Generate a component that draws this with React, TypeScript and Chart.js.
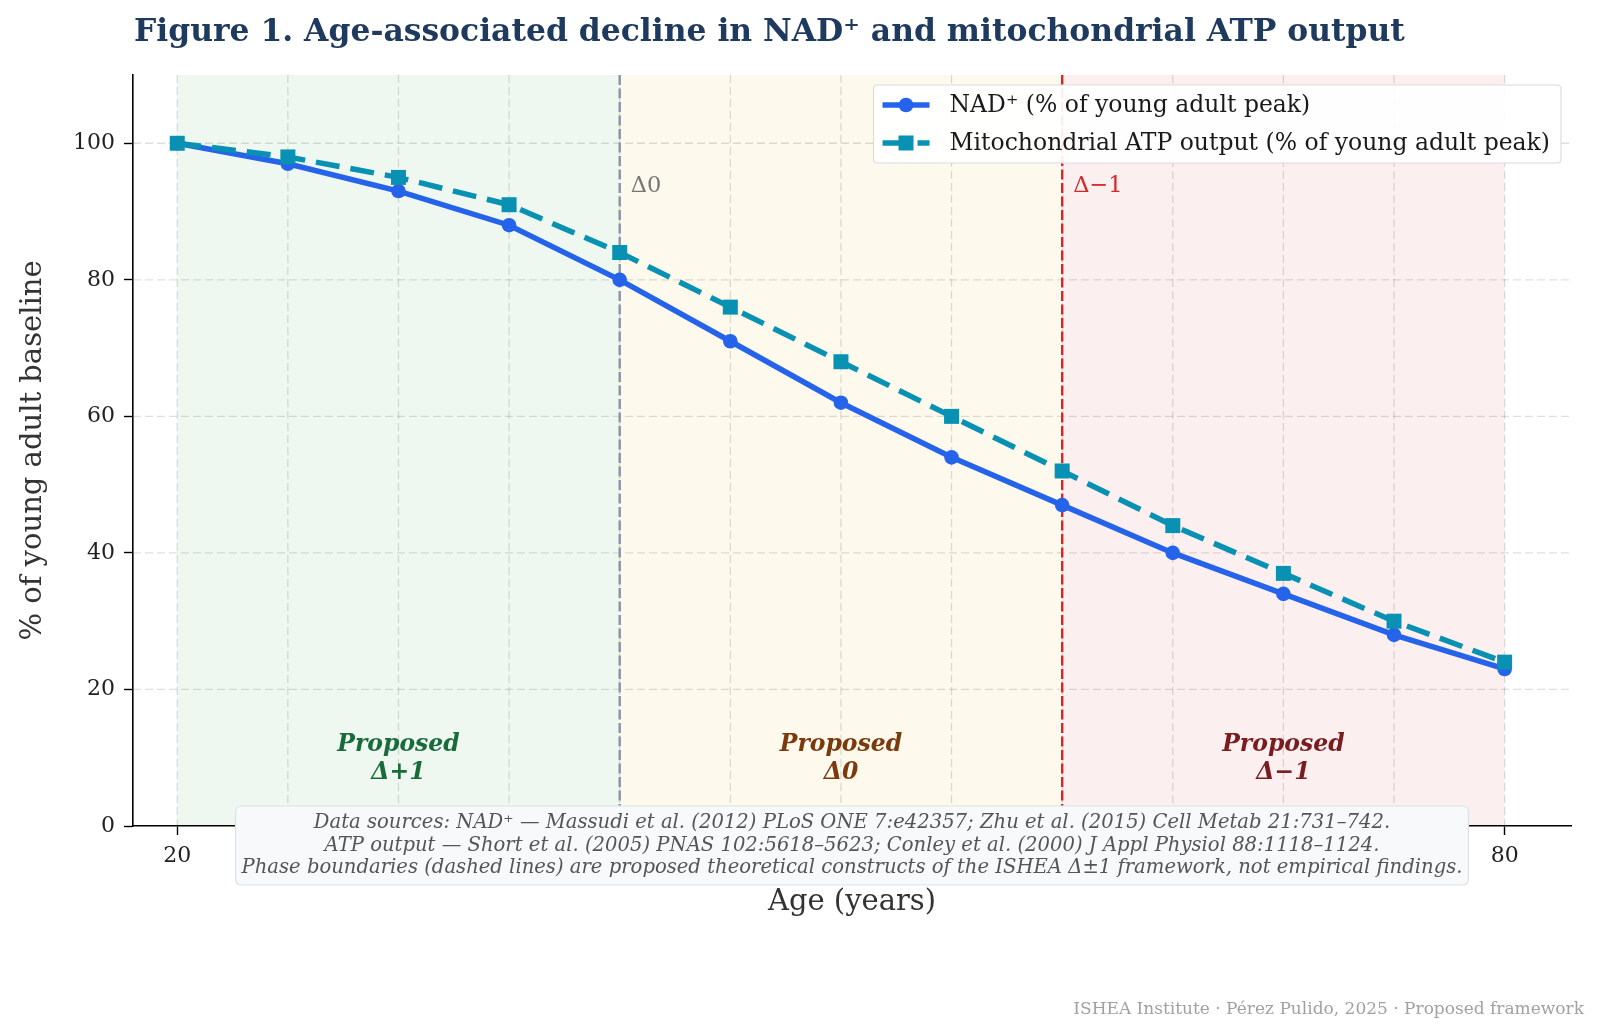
import React, { useEffect, useRef } from 'react';
import { Chart, registerables } from 'chart.js';

Chart.register(...registerables);

const AGES = [20, 25, 30, 35, 40, 45, 50, 55, 60, 65, 70, 75, 80];
const NAD = [100, 97, 93, 88, 80, 71, 62, 54, 47, 40, 34, 28, 23];
const ATP = [100, 98, 95, 91, 84, 76, 68, 60, 52, 44, 37, 30, 24];
const Y_TICKS = [0, 20, 40, 60, 80, 100];
const X_TICKS = AGES;

const PHASES = [
  { from: 20, to: 40, fill: '#eef8f1', label: ['Proposed', 'Δ+1'], color: '#1a6b3a' },
  { from: 40, to: 60, fill: '#fdf9ec', label: ['Proposed', 'Δ0'], color: '#7a3a0c' },
  { from: 60, to: 80, fill: '#fcefef', label: ['Proposed', 'Δ−1'], color: '#7a1c1f' },
];
const BOUNDARIES = [
  { x: 40, label: 'Δ0', color: '#8b93a3', textColor: '#777777' },
  { x: 60, label: 'Δ−1', color: '#d62728', textColor: '#d62728' },
];

const TITLE = 'Figure 1. Age-associated decline in NAD⁺ and mitochondrial ATP output';
const X_TITLE = 'Age (years)';
const Y_TITLE = '% of young adult baseline';
const SOURCE_LINES = [
  'Data sources: NAD⁺ — Massudi et al. (2012) PLoS ONE 7:e42357; Zhu et al. (2015) Cell Metab 21:731–742.',
  'ATP output — Short et al. (2005) PNAS 102:5618–5623; Conley et al. (2000) J Appl Physiol 88:1118–1124.',
  'Phase boundaries (dashed lines) are proposed theoretical constructs of the ISHEA Δ±1 framework, not empirical findings.',
];
const FOOTER = 'ISHEA Institute · Pérez Pulido, 2025 · Proposed framework';

const SERIF = '"DejaVu Serif", serif';

const SERIES = [
  { label: 'NAD⁺ (% of young adult peak)', data: NAD, color: '#2563eb', dash: [] as number[], point: 'circle', radius: 7.3, order: 1 },
  { label: 'Mitochondrial ATP output (% of young adult peak)', data: ATP, color: '#0891b2', dash: [24, 11], point: 'rect', radius: 10.6, order: 0 },
];

function roundRect(ctx: CanvasRenderingContext2D, x: number, y: number, w: number, h: number, r: number) {
  ctx.beginPath();
  ctx.moveTo(x + r, y);
  ctx.lineTo(x + w - r, y);
  ctx.quadraticCurveTo(x + w, y, x + w, y + r);
  ctx.lineTo(x + w, y + h - r);
  ctx.quadraticCurveTo(x + w, y + h, x + w - r, y + h);
  ctx.lineTo(x + r, y + h);
  ctx.quadraticCurveTo(x, y + h, x, y + h - r);
  ctx.lineTo(x, y + r);
  ctx.quadraticCurveTo(x, y, x + r, y);
  ctx.closePath();
}

const decor = {
  id: 'decor',
  beforeDraw(chart: any) {
    const { ctx, chartArea: a, scales } = chart;
    const x = scales.x, y = scales.y;
    ctx.save();
    ctx.fillStyle = '#ffffff';
    ctx.fillRect(0, 0, chart.width, chart.height);
    PHASES.forEach((p) => {
      const x0 = x.getPixelForValue(p.from);
      const x1 = x.getPixelForValue(p.to);
      ctx.fillStyle = p.fill;
      ctx.fillRect(x0, a.top, x1 - x0, a.bottom - a.top);
    });
    ctx.strokeStyle = 'rgba(0,0,0,0.13)';
    ctx.lineWidth = 1.3;
    ctx.setLineDash([8, 4]);
    X_TICKS.forEach((v) => {
      const px = x.getPixelForValue(v);
      ctx.beginPath();
      ctx.moveTo(px, a.top);
      ctx.lineTo(px, a.bottom);
      ctx.stroke();
    });
    Y_TICKS.forEach((v) => {
      if (v === 0) return;
      const py = y.getPixelForValue(v);
      ctx.beginPath();
      ctx.moveTo(a.left, py);
      ctx.lineTo(a.right, py);
      ctx.stroke();
    });
    ctx.lineWidth = 2.4;
    ctx.setLineDash([10, 3.5]);
    BOUNDARIES.forEach((b) => {
      const px = x.getPixelForValue(b.x);
      ctx.strokeStyle = b.color;
      ctx.beginPath();
      ctx.moveTo(px, a.top);
      ctx.lineTo(px, a.bottom);
      ctx.stroke();
    });
    ctx.restore();
  },
  afterDraw(chart: any) {
    const { ctx, chartArea: a, scales } = chart;
    const x = scales.x, y = scales.y;
    ctx.save();
    ctx.setLineDash([]);

    // boundary labels
    ctx.font = `22.5px ${SERIF}`;
    ctx.textBaseline = 'middle';
    ctx.textAlign = 'left';
    BOUNDARIES.forEach((b) => {
      ctx.fillStyle = b.textColor;
      ctx.fillText(b.label, x.getPixelForValue(b.x + 0.5), y.getPixelForValue(93.7));
    });

    // phase labels
    ctx.font = `italic bold 23.5px ${SERIF}`;
    ctx.textAlign = 'center';
    PHASES.forEach((p) => {
      const cx = x.getPixelForValue((p.from + p.to) / 2);
      const cy = y.getPixelForValue(9.8);
      ctx.fillStyle = p.color;
      ctx.fillText(p.label[0], cx, cy - 13.8);
      ctx.fillText(p.label[1], cx, cy + 13.8);
    });

    // legend
    ctx.font = `23.5px ${SERIF}`;
    const tw = Math.max(...SERIES.map((s) => ctx.measureText(s.label).width));
    const bw = 76 + tw + 11;
    const bh = 78;
    const bx = a.right - 10 - bw;
    const by = a.top + 10;
    ctx.fillStyle = 'rgba(255,255,255,0.92)';
    ctx.strokeStyle = '#dcdcdc';
    ctx.lineWidth = 1.2;
    roundRect(ctx, bx, by, bw, bh, 4);
    ctx.fill();
    ctx.stroke();
    SERIES.forEach((s, i) => {
      const ry = by + 20 + i * 38;
      const lx0 = bx + 9, lx1 = bx + 56, mx = (lx0 + lx1) / 2;
      ctx.strokeStyle = s.color;
      ctx.lineWidth = 5.5;
      ctx.setLineDash(s.dash);
      ctx.beginPath();
      ctx.moveTo(lx0, ry);
      ctx.lineTo(lx1, ry);
      ctx.stroke();
      ctx.setLineDash([]);
      ctx.fillStyle = s.color;
      if (s.point === 'circle') {
        ctx.beginPath();
        ctx.arc(mx, ry, s.radius, 0, Math.PI * 2);
        ctx.fill();
      } else {
        const h = s.radius * Math.SQRT1_2;
        ctx.fillRect(mx - h, ry - h, 2 * h, 2 * h);
      }
      ctx.fillStyle = '#1a1a1a';
      ctx.textAlign = 'left';
      ctx.textBaseline = 'middle';
      ctx.fillText(s.label, bx + 76, ry + 1);
    });

    // source box
    ctx.font = `italic 19.6px ${SERIF}`;
    const sw = Math.max(...SOURCE_LINES.map((l) => ctx.measureText(l).width));
    const cx = (a.left + a.right) / 2;
    const sbw = sw + 12;
    const sbh = 79;
    const sby = 806;
    ctx.fillStyle = '#f7f9fb';
    ctx.strokeStyle = '#dde1e6';
    ctx.lineWidth = 1.2;
    roundRect(ctx, cx - sbw / 2, sby, sbw, sbh, 6);
    ctx.fill();
    ctx.stroke();
    ctx.fillStyle = '#555555';
    ctx.textAlign = 'center';
    ctx.textBaseline = 'middle';
    SOURCE_LINES.forEach((l, i) => {
      ctx.fillText(l, cx, sby + 17 + i * 22.5);
    });

    // title
    ctx.font = `bold 31.4px ${SERIF}`;
    ctx.fillStyle = '#1f3a5f';
    ctx.textAlign = 'left';
    ctx.fillText(TITLE, 134, 33);

    // axis titles
    ctx.font = `29px ${SERIF}`;
    ctx.fillStyle = '#333333';
    ctx.textAlign = 'center';
    ctx.fillText(X_TITLE, cx, 902);
    ctx.save();
    ctx.translate(33, (a.top + a.bottom) / 2);
    ctx.rotate(-Math.PI / 2);
    ctx.fillText(Y_TITLE, 0, 0);
    ctx.restore();

    // footer
    ctx.font = `17px ${SERIF}`;
    ctx.fillStyle = '#a0a0a8';
    ctx.textAlign = 'right';
    ctx.fillText(FOOTER, 1584, 1010);
    ctx.restore();
  },
};

export default function App() {
  const ref = useRef<HTMLCanvasElement | null>(null);
  useEffect(() => {
    if (!ref.current) return;
    const tickFont = { family: SERIF, size: 22 };
    const chart = new Chart(ref.current, {
      type: 'line',
      data: {
        datasets: SERIES.map((s) => ({
          label: s.label,
          data: AGES.map((a, i) => ({ x: a, y: s.data[i] })),
          borderColor: s.color,
          backgroundColor: s.color,
          borderWidth: 5.5,
          borderDash: s.dash,
          pointStyle: s.point as any,
          pointRadius: s.radius,
          pointHoverRadius: s.radius,
          pointBackgroundColor: s.color,
          pointBorderColor: s.color,
          pointBorderWidth: 0,
          tension: 0,
          fill: false,
          order: s.order,
        })),
      },
      options: {
        animation: false,
        responsive: false,
        devicePixelRatio: 1,
        events: [],
        layout: { padding: { top: 75, right: 29, bottom: 0, left: 0 } },
        plugins: { legend: { display: false }, title: { display: false }, tooltip: { enabled: false } },
        scales: {
          x: {
            type: 'linear',
            min: 18,
            max: 83,
            afterBuildTicks: (s: any) => { s.ticks = X_TICKS.map((v) => ({ value: v })); },
            afterFit: (s: any) => { s.height = 1036 - 826; },
            ticks: { font: tickFont, color: '#222222', padding: 8, maxRotation: 0, autoSkip: false, callback: (v: any) => String(v) },
            grid: { drawOnChartArea: false, drawTicks: true, tickLength: 9, tickColor: '#000000', tickWidth: 1.4 },
            border: { display: true, color: '#000000', width: 1.6 },
          },
          y: {
            type: 'linear',
            min: 0,
            max: 110,
            afterBuildTicks: (s: any) => { s.ticks = Y_TICKS.map((v) => ({ value: v })); },
            afterFit: (s: any) => { s.width = 133; },
            ticks: { font: tickFont, color: '#222222', padding: 9, callback: (v: any) => String(v) },
            grid: { drawOnChartArea: false, drawTicks: true, tickLength: 9, tickColor: '#000000', tickWidth: 1.4 },
            border: { display: true, color: '#000000', width: 1.6 },
          },
        },
      },
      plugins: [decor],
    });
    return () => chart.destroy();
  }, []);
  return (
    <div style={{ position: 'absolute', left: 0, top: 0, width: 1600, height: 1036, background: '#fff' }}>
      <canvas ref={ref} width={1600} height={1036} style={{ display: 'block' }} />
    </div>
  );
}
